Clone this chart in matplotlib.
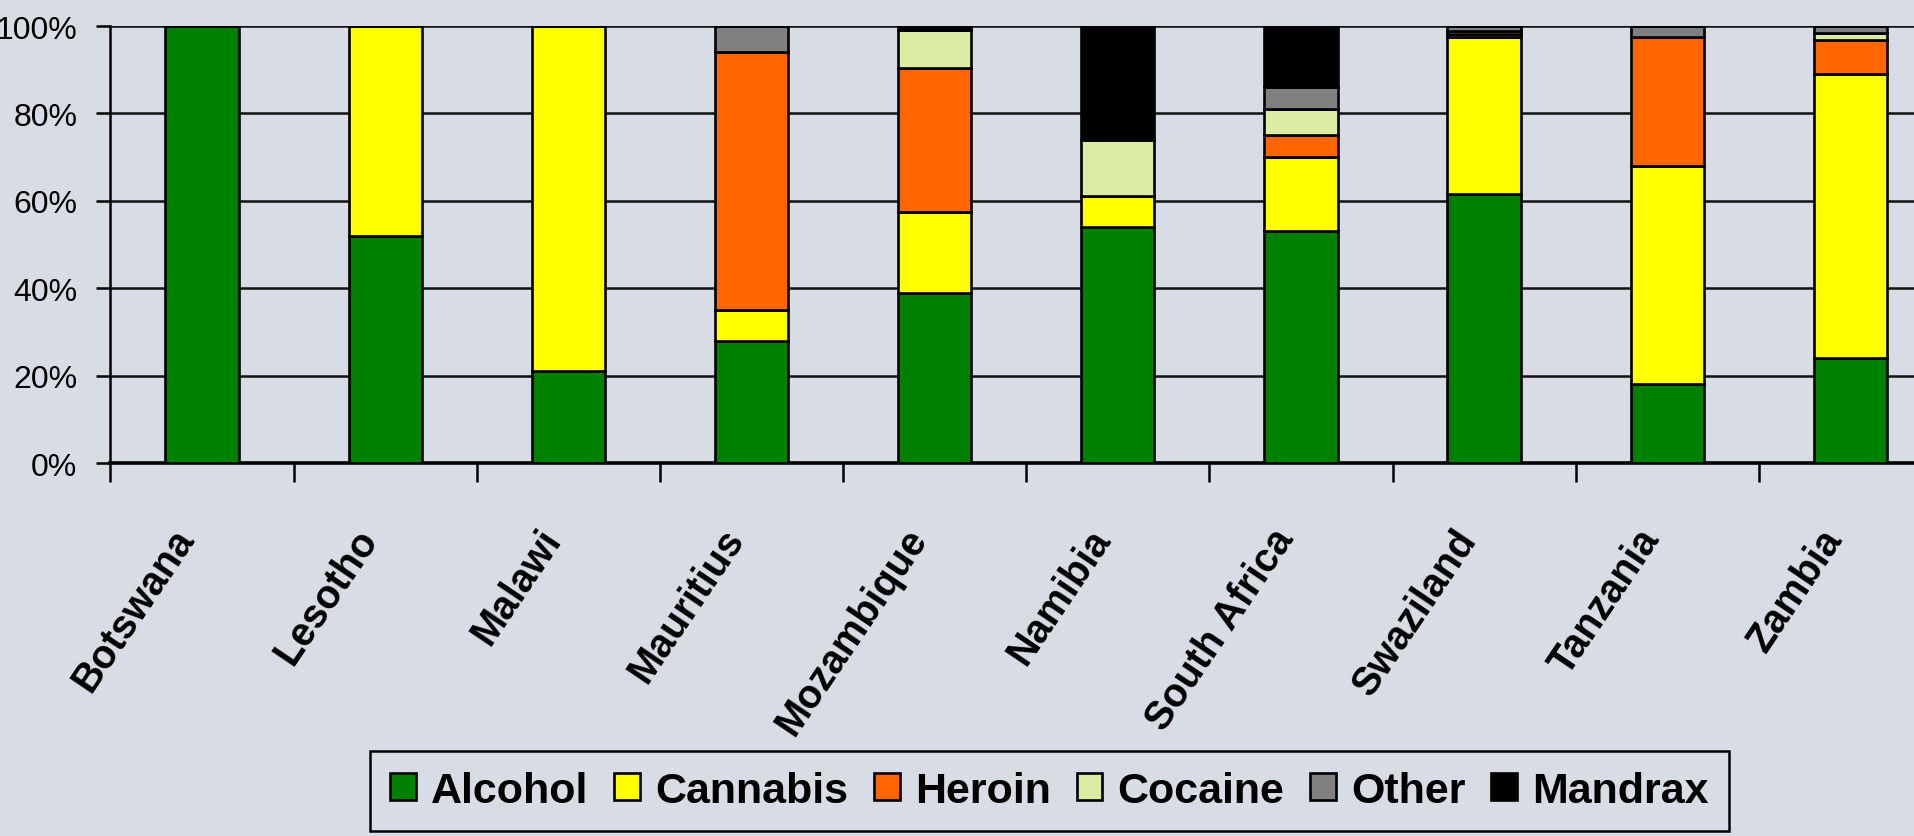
import numpy as np
import matplotlib
matplotlib.use("Agg")
import matplotlib.pyplot as plt
from matplotlib.ticker import FuncFormatter

plt.rcParams['font.family'] = ['Liberation Sans', 'DejaVu Sans']

countries = ['Botswana', 'Lesotho', 'Malawi', 'Mauritius', 'Mozambique',
             'Namibia', 'South Africa', 'Swaziland', 'Tanzania', 'Zambia']

# share of treatment demand by primary substance (%)
alcohol = [100, 52, 21, 28, 39, 54, 53, 61.5, 18, 24]
cannabis = [0, 48, 79, 7, 18.5, 7, 17, 36, 50, 65]
heroin = [0, 0, 0, 59, 33, 0, 5, 0.7, 29.5, 7.8]
cocaine = [0, 0, 0, 0, 8.6, 13, 6, 0.7, 0, 1.6]
other = [0, 0, 0, 6, 0, 0, 5, 1.1, 2.5, 1.6]
mandrax = [0, 0, 0, 0, 0.9, 26, 14, 0, 0, 0]

series = [
    ('Alcohol', alcohol, '#008000'),
    ('Cannabis', cannabis, '#FFFF00'),
    ('Heroin', heroin, '#FF6600'),
    ('Cocaine', cocaine, '#DBECA4'),
    ('Other', other, '#808080'),
    ('Mandrax', mandrax, '#000000'),
]

bg = '#D8DCE5'

fig = plt.figure(figsize=(19.15, 8.37), dpi=100, facecolor=bg)
ax = fig.add_axes([0.0577, 0.4456, 0.9564, 0.5221])
ax.set_facecolor(bg)

x = np.arange(len(countries))
bottom = np.zeros(len(countries))
for name, vals, col in series:
    vals = np.array(vals, dtype=float)
    ax.bar(x, vals, width=0.4, bottom=bottom, color=col, edgecolor='black',
           linewidth=1.9, label=name, zorder=3)
    bottom += vals

ax.set_xlim(-0.5, len(countries) - 0.5)
ax.set_ylim(0, 100)

ax.set_yticks(np.arange(0, 101, 20))
ax.yaxis.set_major_formatter(FuncFormatter(lambda v, p: f'{int(v)}%'))
ax.tick_params(axis='y', direction='out', length=10, width=1.8,
               labelsize=23, pad=14)
ax.yaxis.grid(True, color='#111111', linewidth=1.8)
ax.set_axisbelow(True)

# category labels at the centres, tick marks on the boundaries
ax.set_xticks(x)
ax.set_xticklabels(countries, rotation=56, ha='right', va='top',
                   fontsize=28.5, fontweight='bold')
ax.tick_params(axis='x', which='major', length=0, pad=42)
ax.set_xticks(np.arange(-0.5, len(countries), 1), minor=True)
ax.tick_params(axis='x', which='minor', direction='out', length=14, width=1.8)

for side in ['top', 'right']:
    ax.spines[side].set_visible(False)
ax.spines['left'].set_linewidth(1.8)
ax.spines['bottom'].set_linewidth(2.6)

leg = fig.legend(loc='center', bbox_to_anchor=(0.548, 0.054),
                 bbox_transform=fig.transFigure, ncol=6,
                 prop={'size': 31, 'weight': 'bold'},
                 handlelength=0.6, handleheight=0.6, handletextpad=0.35,
                 columnspacing=0.6, borderpad=0.46, fancybox=False,
                 framealpha=1, facecolor=bg, edgecolor='black')
leg.get_frame().set_linewidth(1.8)

fig.savefig('out.png', dpi=100, facecolor=bg)
